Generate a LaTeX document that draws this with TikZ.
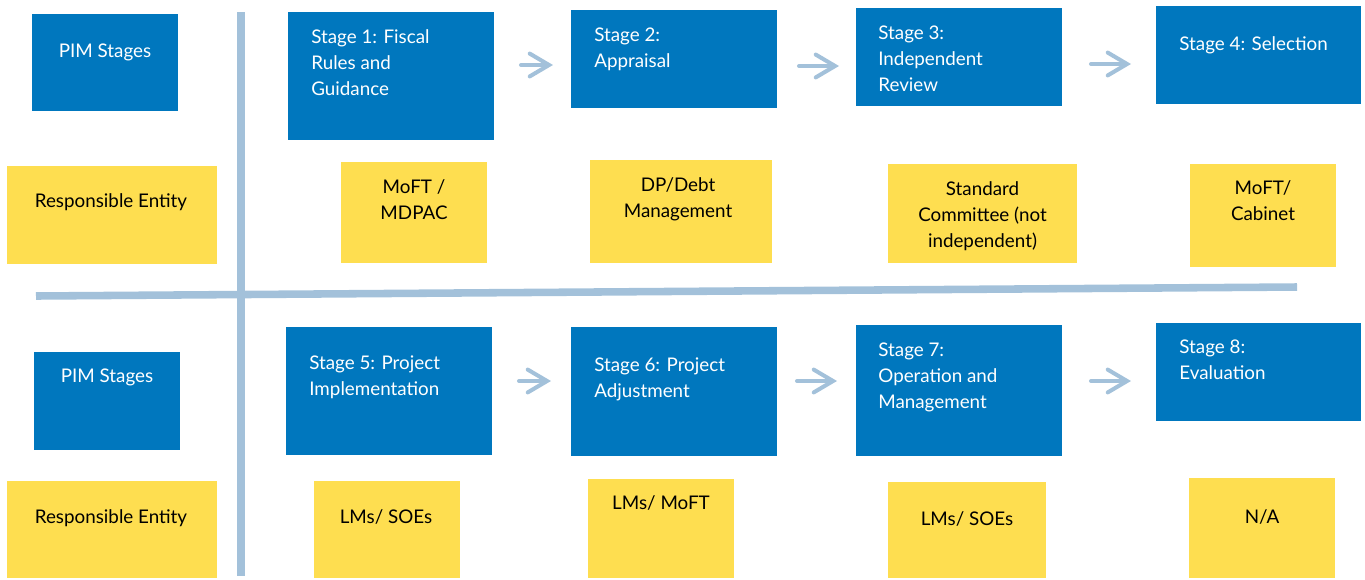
\documentclass[tikz,border=0pt]{standalone}
\usepackage{fontspec}
\setmainfont{Lato}
\usetikzlibrary{arrows.meta}
\definecolor{pimblue}{HTML}{0077BE}
\definecolor{pimyellow}{HTML}{FEDE50}
\definecolor{pimline}{HTML}{A3C1DA}
\begin{document}
\begin{tikzpicture}[x=0.02cm,y=-0.02cm,
  bluebox/.style={fill=pimblue,inner sep=0pt,minimum width=4.12cm,minimum height=1.96cm},
  yellowbox/.style={fill=pimyellow,inner sep=0pt,minimum width=2.92cm,minimum height=1.96cm},
  bluetext/.style={text=white,align=left,inner sep=0pt,anchor=base west,font=\fontsize{10.7}{14.74}\selectfont},
  yellowtext/.style={text=black,align=center,inner sep=0pt,anchor=base,font=\fontsize{10.7}{14.74}\selectfont},
  flow/.style={draw=pimline,line width=2.3pt,line cap=round,-{Straight Barb[length=11pt,width=13pt,line cap=round]}},
  divider/.style={draw=pimline,line width=4.3pt}]
\useasboundingbox (0,0) rectangle (1365,579);
% dividers
\draw[divider](241,12)--(241,576);
\draw[divider](36,296)--(1297,287);
% top row (text nodes sit on the baseline of their last line)
\node[bluebox,minimum width=2.92cm,minimum height=1.94cm](pimA) at (105,62.5){};
\node[yellowbox,minimum width=4.2cm](respA) at (112,215){};
\node[bluebox,minimum height=2.56cm](st1) at (391,76){};
\node[bluebox](st2) at (674,59){};
\node[bluebox](st3) at (959,57){};
\node[bluebox,minimum width=4.1cm](st4) at (1258.5,55){};
\node[yellowbox,minimum height=2.02cm](ent1) at (414,212.5){};
\node[yellowbox,minimum width=3.64cm,minimum height=2.06cm](ent2) at (681,211.5){};
\node[yellowbox,minimum width=3.78cm,minimum height=1.98cm](ent3) at (982.5,213.5){};
\node[yellowbox,minimum height=2.06cm](ent4) at (1263,215.5){};
\node[bluetext,anchor=base](pimAt) at (105,57){PIM Stages};
\node[yellowtext](respAt) at (111,207){Responsible Entity};
\node[bluetext](st1t) at (311,95){Stage 1: Fiscal\\Rules and\\Guidance};
\node[bluetext](st2t) at (594,67){Stage 2:\\Appraisal};
\node[bluetext](st3t) at (878,91){Stage 3:\\Independent\\Review};
\node[bluetext](st4t) at (1179,50){Stage 4: Selection};
\node[yellowtext](ent1t) at (414,219){MoFT /\\MDPAC};
\node[yellowtext](ent2t) at (678,217){DP/Debt\\Management};
\node[yellowtext](ent3t) at (982.5,247){Standard\\Committee (not\\independent)};
\node[yellowtext](ent4t) at (1263,220){MoFT/\\Cabinet};
\coordinate(a1s) at (521,65);\coordinate(a1e) at (553,65);
\coordinate(a2s) at (799,66);\coordinate(a2e) at (839,66);
\coordinate(a3s) at (1091,64);\coordinate(a3e) at (1131,64);
\draw[flow](a1s)--(a1e);
\draw[flow](a2s)--(a2e);
\draw[flow](a3s)--(a3e);
% bottom row
\node[bluebox,minimum width=2.92cm](pimB) at (107,401){};
\node[yellowbox,minimum width=4.2cm,minimum height=1.94cm](respB) at (112,529.5){};
\node[bluebox,minimum height=2.56cm](st5) at (389,391){};
\node[bluebox,minimum height=2.58cm](st6) at (674,391.5){};
\node[bluebox,minimum height=2.62cm](st7) at (959,390.5){};
\node[bluebox,minimum width=4.1cm](st8) at (1258.5,372){};
\node[yellowbox,minimum height=1.94cm](ent5) at (387,529.5){};
\node[yellowbox,minimum height=1.98cm](ent6) at (661,528.5){};
\node[yellowbox,minimum width=3.16cm,minimum height=1.92cm](ent7) at (967,530){};
\node[yellowbox,minimum height=2.0cm](ent8) at (1262,528){};
\node[bluetext,anchor=base](pimBt) at (107,382){PIM Stages};
\node[yellowtext](respBt) at (111,523){Responsible Entity};
\node[bluetext](st5t) at (309,395){Stage 5: Project\\Implementation};
\node[bluetext](st6t) at (594,397){Stage 6: Project\\Adjustment};
\node[bluetext](st7t) at (878,408){Stage 7:\\Operation and\\Management};
\node[bluetext](st8t) at (1179,379){Stage 8:\\Evaluation};
\node[yellowtext](ent5t) at (386,523){LMs/ SOEs};
\node[yellowtext](ent6t) at (661,509){LMs/ MoFT};
\node[yellowtext](ent7t) at (967,525){LMs/ SOEs};
\node[yellowtext](ent8t) at (1262,523){N/A};
\coordinate(b1s) at (519,381);\coordinate(b1e) at (551,381);
\coordinate(b2s) at (797,381);\coordinate(b2e) at (837,381);
\coordinate(b3s) at (1091,381);\coordinate(b3e) at (1131,381);
\draw[flow](b1s)--(b1e);
\draw[flow](b2s)--(b2e);
\draw[flow](b3s)--(b3e);
\end{tikzpicture}
\end{document}
